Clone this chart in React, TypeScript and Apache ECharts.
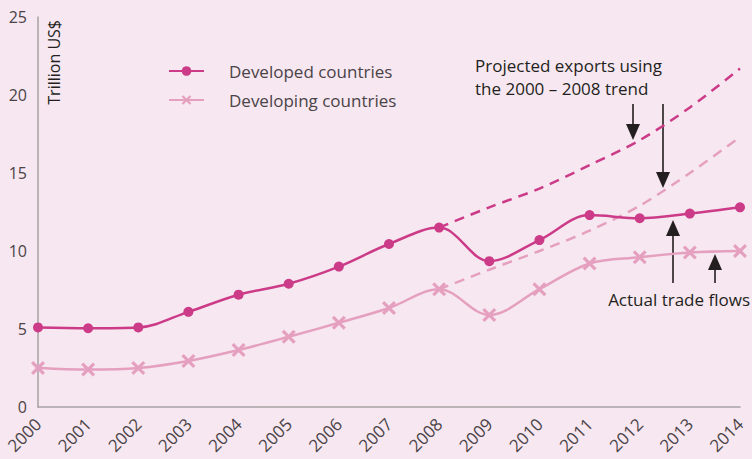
import React, { useEffect, useRef } from "react";
import * as echarts from "echarts";

const years = ["2000","2001","2002","2003","2004","2005","2006","2007","2008","2009","2010","2011","2012","2013","2014"];
const developed = [5.1, 5.05, 5.1, 6.1, 7.2, 7.9, 9.0, 10.45, 11.5, 9.35, 10.7, 12.3, 12.1, 12.4, 12.8];
const developing = [2.5, 2.4, 2.5, 2.95, 3.65, 4.5, 5.4, 6.35, 7.55, 5.9, 7.55, 9.2, 9.6, 9.9, 10.0];
const projectedDeveloped = [null, null, null, null, null, null, null, null, 11.5, 12.8, 14.0, 15.5, 17.1, 19.2, 21.7];
const projectedDeveloping = [null, null, null, null, null, null, null, null, 7.55, 8.8, 10.0, 11.3, 12.9, 15.0, 17.3];
const yTicks = [0, 5, 10, 15, 20, 25];

const DEV = "#cc3b88";
const DEVING = "#e5a0c0";
const TXT = "#4a4347";
const DARK = "#231f20";
const FONT = "'Open Sans', Lato, sans-serif";

const crossPath = "path://M0,1.6L1.6,0L5,3.4L8.4,0L10,1.6L6.6,5L10,8.4L8.4,10L5,6.6L1.6,10L0,8.4L3.4,5Z";

function arrow(x: number, y1: number, y2: number, headLen: number, headW: number) {
  const dir = y2 > y1 ? 1 : -1;
  const base = y2 - dir * headLen;
  return [
    { type: "line", shape: { x1: x, y1, x2: x, y2: base }, style: { stroke: DARK, lineWidth: 1.6 } },
    { type: "polygon", shape: { points: [[x - headW, base], [x + headW, base], [x, y2]] }, style: { fill: DARK } },
  ];
}

export default function App() {
  const ref = useRef<HTMLDivElement>(null);
  useEffect(() => {
    if (!ref.current) return;
    const chart = echarts.init(ref.current, null, { renderer: "svg" });
    chart.setOption({
      animation: false,
      backgroundColor: "#f7e7f0",
      textStyle: { fontFamily: FONT },
      grid: { left: 38, right: 12, top: 17, bottom: 52, containLabel: false },
      legend: {
        orient: "vertical",
        left: 163,
        top: 56,
        itemWidth: 35,
        itemHeight: 12,
        itemGap: 9,
        data: ["Developed countries", "Developing countries"],
        textStyle: { color: TXT, fontSize: 17, lineHeight: 20, fontFamily: FONT, padding: [0, 0, 0, 20] },
      },
      xAxis: {
        type: "category",
        data: years,
        boundaryGap: false,
        axisLine: { lineStyle: { color: "#a6a3a5", width: 1.5 } },
        axisTick: { show: false },
        axisLabel: { rotate: 45, color: TXT, fontSize: 17, margin: 14, fontFamily: FONT },
      },
      yAxis: {
        type: "value",
        min: yTicks[0],
        max: yTicks[yTicks.length - 1],
        interval: 5,
        axisLine: { show: true, lineStyle: { color: "#a6a3a5", width: 1.5 } },
        axisTick: { show: false },
        splitLine: { show: false },
        axisLabel: { color: TXT, fontSize: 16, margin: 11, fontFamily: FONT },
      },
      series: [
        {
          name: "Developed countries",
          type: "line",
          data: developed,
          smooth: 0.35,
          symbol: "circle",
          symbolSize: 10,
          lineStyle: { color: DEV, width: 2.5 },
          itemStyle: { color: DEV },
          z: 4,
        },
        {
          name: "Developing countries",
          type: "line",
          data: developing,
          smooth: 0.35,
          symbol: crossPath,
          symbolSize: 14,
          lineStyle: { color: DEVING, width: 2.5 },
          itemStyle: { color: DEVING },
          z: 3,
        },
        {
          name: "proj-dev",
          type: "line",
          data: projectedDeveloped,
          smooth: 0.3,
          symbol: "none",
          lineStyle: { color: DEV, width: 2.5, type: [10, 7] },
          z: 2,
        },
        {
          name: "proj-deving",
          type: "line",
          data: projectedDeveloping,
          smooth: 0.3,
          symbol: "none",
          lineStyle: { color: DEVING, width: 2.5, type: [10, 7] },
          z: 2,
        },
      ],
      graphic: [
        {
          type: "text",
          x: 46,
          y: 20,
          rotation: Math.PI / 2,
          style: { text: "Trillion US$", fill: DARK, fontSize: 16, fontFamily: FONT, fontWeight: 500, align: "right", verticalAlign: "top" },
        },
        {
          type: "text",
          x: 475,
          y: 54,
          style: { text: "Projected exports using\nthe 2000 – 2008 trend", fill: DARK, fontSize: 17, lineHeight: 23, fontFamily: FONT, fontWeight: 500 },
        },
        {
          type: "text",
          x: 750,
          y: 291,
          style: { text: "Actual trade flows", fill: DARK, fontSize: 17, fontFamily: FONT, fontWeight: 500, align: "right" },
        },
        ...arrow(633, 104, 140, 16, 7),
        ...arrow(663, 104, 188, 16, 7),
        ...arrow(673, 283, 220, 16, 7),
        ...arrow(715, 283, 254, 16, 7),
      ],
    });
    return () => chart.dispose();
  }, []);
  return <div ref={ref} style={{ width: 752, height: 459, position: "fixed", left: 0, top: 0 }} />;
}
